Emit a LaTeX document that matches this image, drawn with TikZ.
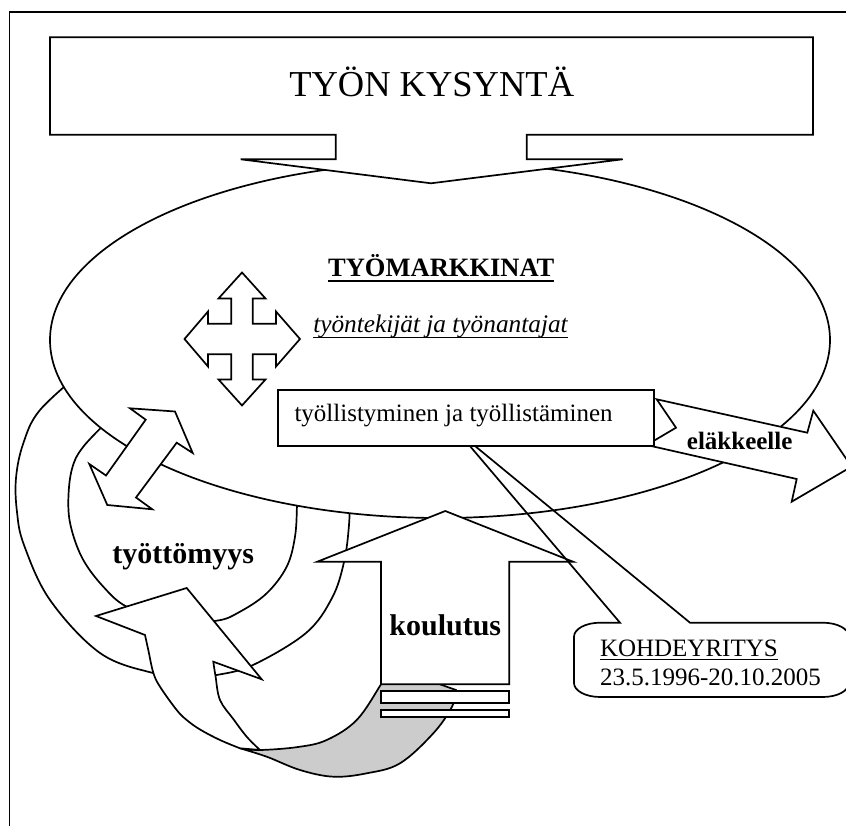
\documentclass[tikz,border=0pt]{standalone}
\usepackage{fontspec}
\setmainfont{Liberation Serif}
\usetikzlibrary{calc}
\newcommand\setfs[1]{\fontsize{#1}{#1}\selectfont}
\begin{document}
\begin{tikzpicture}[x=1pt,y=-1pt,
  outline/.style={draw=black,line width=1.7pt,line join=miter,miter limit=10},
  whiteshape/.style={outline,fill=white},
  backface/.style={outline,fill=black!20},
  lbl/.style={inner sep=0pt,outer sep=0pt,text=black},
  uline/.style={line width=1.4pt}]
\clip (0,0) rectangle (846,826);
% outer frame (right and bottom edges lie off the page)
\draw[outline] (9.5,11.7) rectangle (880,860);

% loop band between the labour market and unemployment
\draw[outline] plot[smooth,tension=0.6] coordinates {(85,369) (40,410) (23.3,443.3) (16,478) (17,512) (24,545) (50,600) (100,653) (153,673) (190,677.5) (216.7,675) (253,665) (306,633) (332,598) (344,562) (349,525) (350,490)};
\draw[outline] plot[smooth,tension=0.6] coordinates {(115,414) (83.3,446.7) (71.7,470) (68.3,503.3) (71.7,530) (83.3,560) (103.3,586.7) (126.7,606.7) (170,622) (216.7,620.7) (240,611.7) (266.7,593.3) (286.7,566.7) (295,536.7) (297,505) (297,490)};

% labour market
\draw[whiteshape] (440,340) ellipse [x radius=390, y radius=178];

% labour demand box with its pointer
\draw[whiteshape] (50,37.3) -- (813,37.3) -- (813,134.7) -- (526.7,134.7) -- (526.7,159.3)
  -- (622.7,159.3) -- (431,183.3) -- (240.7,159.3) -- (335.7,159.3) -- (335.7,134.7)
  -- (50,134.7) -- cycle;
\node[lbl,anchor=base,font=\setfs{36.5}] (demand) at (431.7,96.7) {TYÖN KYSYNTÄ};

% two-way arrow between market and unemployment
\draw[whiteshape] (175,411.5) -- (192.7,453) -- (176.7,442.7) -- (136,497.5) -- (152.3,509.3)
  -- (107.3,505) -- (89.3,464) -- (106,475.5) -- (145.7,419.7) -- (130,408.3) -- cycle;

% four-way arrow
\begin{scope}[shift={(242,339)}]
\draw[whiteshape] (0,-66.5) -- (23.5,-40.5) -- (10.7,-40.5) -- (10.7,-15.3) -- (34,-15.3)
  -- (34,-27.5) -- (58,0) -- (34,27.5) -- (34,15.3) -- (10.7,15.3) -- (10.7,40.5)
  -- (23.5,40.5) -- (0,66.5) -- (-23.5,40.5) -- (-10.7,40.5) -- (-10.7,15.3) -- (-34,15.3)
  -- (-34,27.5) -- (-57.5,0) -- (-34,-27.5) -- (-34,-15.3) -- (-10.7,-15.3) -- (-10.7,-40.5)
  -- (-23.5,-40.5) -- cycle;
\end{scope}

% curved arrow: shaded back face
\draw[backface] plot[smooth,tension=0.6] coordinates {(240,748.3) (260,750) (298,747) (326.7,740) (356.7,720) (381,684.3) (391,667)}
  -- (456,690)
  -- plot[smooth,tension=0.6] coordinates {(456,690) (452,706.7) (433.3,733.3) (400,763.3) (366.7,773.3) (333.3,776.7) (300,770) (266.7,756.7) (240,748.3)}
  -- cycle;
% curved arrow: front face and head
\draw[whiteshape] (145,635) -- (96,616) -- (186.7,588) -- (261.7,679.3) -- (213.3,661.7)
  -- plot[smooth,tension=0.6] coordinates {(213.3,661.7) (215.5,676) (220,700) (233.3,719) (246.7,736.7) (260,750)}
  -- (240,748.3)
  -- plot[smooth,tension=0.6] coordinates {(240,748.3) (220,740) (200,729.5) (186.7,720) (176.7,710) (160,686.7) (153.3,672.7) (148.3,650) (145,635)}
  -- cycle;

% education: striped up arrow
\draw[whiteshape] (445.3,511) -- (573,561.7) -- (509.3,561.7) -- (509.3,684.3) -- (381,684.3)
  -- (381,561.7) -- (317.3,561.7) -- cycle;
\draw[whiteshape] (381,690.7) rectangle (509.3,703.3);
\draw[whiteshape] (381,710) rectangle (509.3,716.7);

% retirement arrow
\draw[whiteshape] (656.7,399.3) -- (807.3,432.7) -- (813.3,410.7) -- (851.6,466.6)
  -- (791.7,501.7) -- (796.7,479) -- (646.7,445) -- (676,427.7) -- cycle;

% callout for the case company (outline only)
\draw[outline] (620,622.7) -- (458,432) -- (690,622.7) -- (823,622.7)
  arc[start angle=-90,end angle=0,x radius=26,y radius=14] -- (849,683)
  arc[start angle=0,end angle=90,x radius=26,y radius=14] -- (600,697)
  arc[start angle=90,end angle=180,x radius=26,y radius=14] -- (574,636.7)
  arc[start angle=180,end angle=270,x radius=26,y radius=14] -- cycle;

% employment box
\draw[whiteshape] (278,390) rectangle (654.3,445.7);
\node[lbl,anchor=base west,font=\setfs{25}] (employ) at (294.5,421.7) {työllistyminen ja työllistäminen};

% labels
\node[lbl,anchor=base,font=\bfseries\setfs{26.5}] (market) at (441.3,276.7) {TYÖMARKKINAT};
\draw[uline] ($(market.base west)+(0,4.5)$) -- ($(market.base east)+(0,4.5)$);
\node[lbl,anchor=base west,font=\itshape\setfs{25.3}] (parties) at (313.3,332.5) {työntekijät ja työnantajat};
\draw[uline,line width=1.1pt] ($(parties.base west)+(0,4.8)$) -- ($(parties.base east)+(0,4.8)$);
\node[lbl,anchor=base,font=\bfseries\setfs{25}] (retire) at (739.7,449.3) {eläkkeelle};
\node[lbl,anchor=base,font=\bfseries\setfs{30}] (unemp) at (183.3,563.3) {työttömyys};
\node[lbl,anchor=base,font=\bfseries\setfs{30}] (edu) at (445.3,635) {koulutus};
\node[lbl,anchor=base west,font=\setfs{25}] (target) at (600,656.7) {KOHDEYRITYS};
\draw[uline,line width=1.1pt] ($(target.base west)+(0,3)$) -- ($(target.base east)+(0,3)$);
\node[lbl,anchor=base west,font=\setfs{25}] (period) at (600,685) {23.5.1996-20.10.2005};
\end{tikzpicture}
\end{document}
